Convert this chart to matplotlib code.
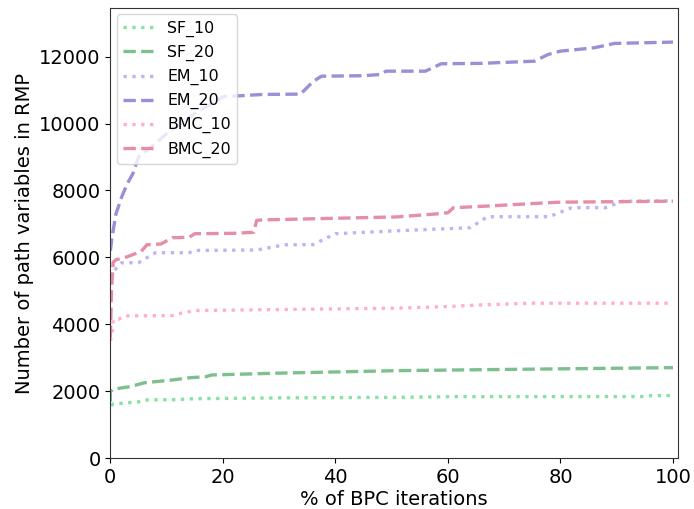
import numpy as np
import matplotlib.pyplot as plt

# values (x = % of BPC iterations)
sf10_x = [0, 0, 0.5, 5, 6, 12, 15, 30, 51, 60, 95, 96, 100]
sf10_y = [1800, 1560, 1617, 1680, 1737, 1750, 1776, 1800, 1816, 1836, 1840, 1866, 1870]

sf20_x = [0, 0, 0.5, 3.5, 6, 11, 14, 17, 18, 30, 51, 70, 100]
sf20_y = [1700, 1985, 2060, 2135, 2250, 2335, 2400, 2434, 2485, 2540, 2614, 2650, 2704]

em10_x = [0, 0.3, 2, 5, 8, 14, 15, 26, 31, 36, 40, 51, 64, 67, 78, 82, 88, 91, 100]
em10_y = [5400, 5540, 5838, 5840, 6138, 6140, 6207, 6220, 6377, 6380, 6707, 6796, 6886, 7216, 7216, 7485, 7485, 7675, 7690]

em20_x = [0, 0.3, 1, 2, 3, 4, 5, 8, 10, 15, 20, 25, 27, 33.8, 36, 37.5, 45, 48, 49, 56, 58.8,
          66, 75.4, 77.8, 80, 86, 89.6, 100]
em20_y = [6200, 6600, 7300, 7800, 8200, 8500, 9000, 9400, 9700, 10300, 10800, 10850, 10870, 10880,
          11250, 11416, 11430, 11467, 11566, 11566, 11787, 11800, 11865, 12065, 12165, 12265, 12395, 12435]

bmc10_x = [0, 0.3, 0.5, 1.5, 2.5, 11, 12, 15, 30, 51, 60, 66, 75, 100]
bmc10_y = [3500, 3743, 4132, 4150, 4251, 4260, 4311, 4411, 4440, 4482, 4530, 4581, 4630, 4630]

bmc20_x = [0, 0.2, 0.5, 1, 3, 5.5, 6.5, 9, 11, 14, 15, 22, 25.5, 26, 27, 51, 58, 60, 61, 66, 78, 80, 100]
bmc20_y = [3600, 5000, 5850, 5928, 6018, 6180, 6377, 6400, 6587, 6600, 6707, 6720, 6750, 7105, 7120,
           7210, 7300, 7335, 7485, 7525, 7635, 7650, 7680]

series = [
    ("SF_10", sf10_x, sf10_y, ":", "#86e39e"),
    ("SF_20", sf20_x, sf20_y, "--", "#7dbf8e"),
    ("EM_10", em10_x, em10_y, ":", "#bdb4f2"),
    ("EM_20", em20_x, em20_y, "--", "#9b8fd6"),
    ("BMC_10", bmc10_x, bmc10_y, ":", "#ffb0c6"),
    ("BMC_20", bmc20_x, bmc20_y, "--", "#e58ea5"),
]

fig, ax = plt.subplots(figsize=(6.94, 5.09), dpi=100)
fig.subplots_adjust(left=0.159, right=0.977, bottom=0.1, top=0.984)

for name, xs, ys, ls, col in series:
    ax.plot(xs, ys, linestyle=ls, color=col, linewidth=2.4, label=name)

ax.set_xlim(0, 100.9)
ax.set_ylim(0, 13450)
ax.set_xlabel("% of BPC iterations", fontsize=14, labelpad=2)
ax.set_ylabel("Number of path variables in RMP", fontsize=14)
ax.tick_params(labelsize=14)
for s in ax.spines.values():
    s.set_color("#333333")
ax.legend(loc="upper left", fontsize=11.4, borderaxespad=0.4)

plt.savefig("out.png", dpi=100)
